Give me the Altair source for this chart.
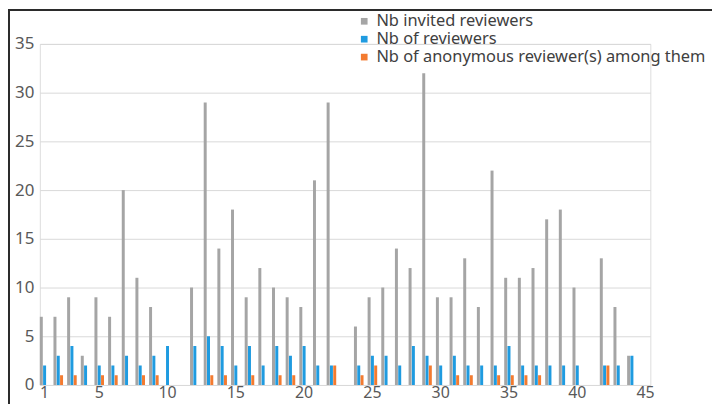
import altair as alt
import pandas as pd

categories = list(range(1, 46))
invited = [7, 7, 9, 3, 9, 7, 20, 11, 8, 0,
           0, 10, 29, 14, 18, 9, 12, 10, 9, 8,
           21, 29, 0, 6, 9, 10, 14, 12, 32, 9,
           9, 13, 8, 22, 11, 11, 12, 17, 18, 10,
           0, 13, 8, 3, 0]
reviewers = [2, 3, 4, 2, 2, 2, 3, 2, 3, 4,
             0, 4, 5, 4, 2, 4, 2, 4, 3, 4,
             2, 2, 0, 2, 3, 3, 2, 4, 3, 2,
             3, 2, 2, 2, 4, 2, 2, 2, 2, 2,
             0, 2, 2, 3, 0]
anonymous = [0, 1, 1, 0, 1, 1, 0, 1, 1, 0,
             0, 0, 1, 1, 0, 1, 0, 1, 1, 0,
             0, 2, 0, 1, 2, 0, 0, 0, 2, 0,
             1, 1, 0, 1, 1, 1, 1, 0, 0, 0,
             0, 2, 0, 0, 0]
series_names = ["Nb invited reviewers", "Nb of reviewers",
                "Nb of anonymous reviewer(s) among them"]
series_colors = ["#A5A5A5", "#1F9BE0", "#F37B30"]
x_ticks = [1, 5, 10, 15, 20, 25, 30, 35, 40, 45]
y_ticks = [0, 5, 10, 15, 20, 25, 30, 35]

rows = []
for name, vals in zip(series_names, [invited, reviewers, anonymous]):
    for c, v in zip(categories, vals):
        rows.append({"cat": c, "series": name, "value": v})
df = pd.DataFrame(rows)

FONT = "Noto Sans"

bars = alt.Chart(df).mark_bar(width=3).encode(
    x=alt.X("cat:O", scale=alt.Scale(domain=categories, paddingInner=0.3, paddingOuter=0.0),
            axis=alt.Axis(values=x_ticks, labelAngle=0, title=None, domain=False, ticks=False,
                          grid=False, labelFontSize=16, labelColor="#595959", labelFont=FONT,
                          labelPadding=0)),
    xOffset=alt.XOffset("series:N", sort=series_names,
                        scale=alt.Scale(domain=series_names, paddingInner=0.1)),
    y=alt.Y("value:Q", scale=alt.Scale(domain=[0, 35], nice=False),
            axis=alt.Axis(values=y_ticks, title=None, domain=False, ticks=False,
                          gridColor="#D9D9D9", gridWidth=1, labelFontSize=17,
                          labelColor="#595959", labelFont=FONT, labelPadding=6)),
    color=alt.Color("series:N", sort=series_names,
                    scale=alt.Scale(domain=series_names, range=series_colors),
                    legend=alt.Legend(title=None, orient="none", legendX=318, legendY=-31,
                                      symbolType="square", symbolSize=45, symbolStrokeWidth=0,
                                      labelFontSize=16.5, labelFont=FONT, labelColor="#404040",
                                      labelLimit=0, rowPadding=1, symbolOffset=0,
                                      labelOffset=4)),
)

frame = alt.Chart(pd.DataFrame({"a": [0]})).mark_rect(
    fill=None, stroke="#2b2b2b", strokeWidth=2
).encode(
    x=alt.value(-31), x2=alt.value(677), y=alt.value(-34), y2=alt.value(380)
)

chart = alt.layer(bars, frame).properties(
    width=614, height=343,
    autosize=alt.AutoSizeParams(type="none"),
    padding={"left": 32, "top": 35, "right": 62, "bottom": 18},
).configure_view(stroke=None).configure(font=FONT)

chart.save("out.html", embed_options={"renderer": "svg", "actions": False})
